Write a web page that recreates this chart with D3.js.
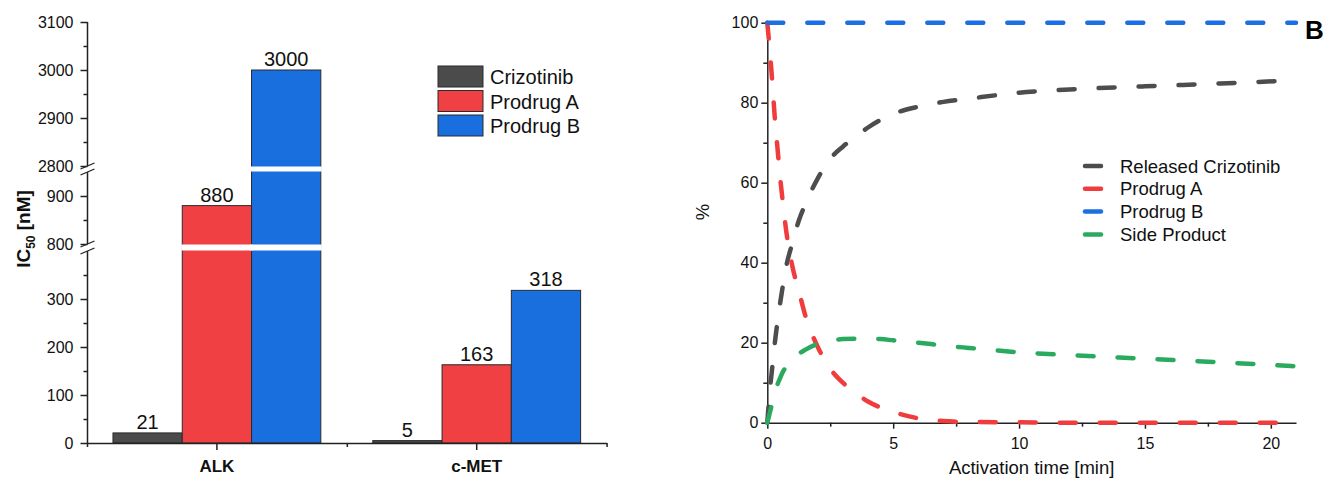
<!DOCTYPE html>
<html>
<head>
<meta charset="utf-8">
<script src="https://cdn.jsdelivr.net/npm/d3@7"></script>
<style>
  body { margin: 0; background: #fff; }
  svg { font-family: "Liberation Sans", Arial, Helvetica, sans-serif; }
</style>
</head>
<body>
<script>
// ---- data: left panel (IC50, nM) ----
const categories = ["ALK", "c-MET"];
const seriesNames = ["Crizotinib", "Prodrug A", "Prodrug B"];
const crizotinibIC50 = [21, 5];
const prodrugAIC50 = [880, 163];
const prodrugBIC50 = [3000, 318];
const barColors = ["#4b4b4b", "#f04043", "#1a6fdf"];

// broken axis pieces and their ticks
const lowerTicks = [0, 100, 200, 300];
const middleTicks = [800, 900];
const upperTicks = [2800, 2900, 3000, 3100];
const lowerMinor = [50, 150, 250, 350];
const middleMinor = [850];
const upperMinor = [2850, 2950, 3050];

// ---- data: right panel (% vs activation time) ----
const timeMin = [0, 0.1, 0.2, 0.3, 0.4, 0.5, 0.6, 0.75, 1, 1.25, 1.5, 2, 2.5, 3, 3.5, 4, 4.5, 5, 6, 7, 8, 10, 12, 15, 18, 21];
const releasedCrizotinib = [0, 8, 14, 20, 25, 29.5, 33.5, 39, 45, 50.5, 54.5, 61, 66, 69, 71.5, 73.8, 75.7, 77.2, 79, 80.2, 81, 82.5, 83.3, 84.1, 84.8, 85.6];
const prodrugA = [100, 93, 85, 76, 69, 62, 56, 48, 39, 33, 27, 19, 13.5, 10, 7.5, 5.3, 3.8, 2.7, 1.1, 0.4, 0.2, 0.1, 0, 0, 0, 0];
const prodrugB = [100, 100, 100, 100, 100, 100, 100, 100, 100, 100, 100, 100, 100, 100, 100, 100, 100, 100, 100, 100, 100, 100, 100, 100, 100, 100];
const sideProduct = [0, 2.5, 5, 7.5, 9.5, 11, 12.5, 14, 15.8, 17.2, 18.2, 19.7, 20.5, 20.9, 21.0, 21.0, 20.9, 20.6, 20.0, 19.3, 18.7, 17.6, 16.9, 16.0, 15.1, 14.1];
const lineNames = ["Released Crizotinib", "Prodrug A", "Prodrug B", "Side Product"];
const lineColors = ["#4d4d4d", "#f03c3c", "#1c6fe0", "#2aaa5f"];

const W = 1327, H = 479;
const axisColor = "#222";

const svg = d3.select("body").append("svg")
  .attr("width", W)
  .attr("height", H);

svg.append("rect").attr("width", W).attr("height", H).attr("fill", "#fff");

// =================== LEFT PANEL ===================
const axX = 87.5;
// three linear pieces of the broken y axis
const segments = [
  { scale: d3.scaleLinear().domain([0, 400]).range([443, 251]), major: lowerTicks, minor: lowerMinor },
  { scale: d3.scaleLinear().domain([800, 950]).range([244, 172]), major: middleTicks, minor: middleMinor },
  { scale: d3.scaleLinear().domain([2800, 3100]).range([166, 22]), major: upperTicks, minor: upperMinor }
];
function segFor(v) {
  return segments.find(s => v >= s.scale.domain()[0] && v <= s.scale.domain()[1]) || segments[0];
}
const yL = v => segFor(v).scale(v);

const x0 = d3.scaleBand().domain(categories).range([87, 606.6]).paddingInner(0.2).paddingOuter(0.1);
const x1 = d3.scaleBand().domain(seriesNames).range([0, x0.bandwidth()]);
const xLin = d3.scaleLinear().domain([0.5, 2.5]).range([87, 606.6]);

const barData = [];
categories.forEach((c, i) => {
  [crizotinibIC50, prodrugAIC50, prodrugBIC50].forEach((arr, j) => {
    barData.push({ cat: c, name: seriesNames[j], value: arr[i], color: barColors[j] });
  });
});

const left = svg.append("g");
const y0 = yL(0);

// full bars, then white bands cut through them at the axis breaks
left.append("g").selectAll("rect")
  .data(barData)
  .enter().append("rect")
    .attr("x", d => x0(d.cat) + x1(d.name))
    .attr("width", x1.bandwidth())
    .attr("y", d => yL(d.value))
    .attr("height", d => y0 - yL(d.value))
    .attr("fill", d => d.color)
    .attr("stroke", "#2a2a2a")
    .attr("stroke-width", 1);

[[segments[0], segments[1]], [segments[1], segments[2]]].forEach(([lo, hi]) => {
  const yB = lo.scale.range()[1], yT = hi.scale.range()[0];
  barData.filter(d => d.value > hi.scale.domain()[0]).forEach(d => {
    left.append("rect")
      .attr("x", x0(d.cat) + x1(d.name) - 1)
      .attr("width", x1.bandwidth() + 2)
      .attr("y", yT + 0.5)
      .attr("height", yB - yT - 1)
      .attr("fill", "#fff");
  });
});

// value labels above bars
left.append("g").selectAll("text")
  .data(barData)
  .enter().append("text")
    .attr("x", d => x0(d.cat) + x1(d.name) + x1.bandwidth() / 2)
    .attr("y", d => yL(d.value) - 4)
    .attr("text-anchor", "middle")
    .attr("font-size", 20)
    .attr("fill", "#111")
    .text(d => d.value);

// y axis pieces
segments.forEach(seg => {
  const gMaj = left.append("g").attr("transform", `translate(${axX},0)`)
    .call(d3.axisLeft(seg.scale).tickValues(seg.major).tickSize(7).tickPadding(7).tickFormat(d3.format("d")));
  gMaj.select(".domain").remove();
  gMaj.selectAll("text").attr("font-size", 16).attr("fill", "#111").attr("font-family", null);
  gMaj.selectAll("line").attr("stroke", axisColor).attr("stroke-width", 1.5);
  const gMin = left.append("g").attr("transform", `translate(${axX},0)`)
    .call(d3.axisLeft(seg.scale).tickValues(seg.minor).tickSize(4).tickFormat(""));
  gMin.select(".domain").remove();
  gMin.selectAll("line").attr("stroke", axisColor).attr("stroke-width", 1.5);
  const r = seg.scale.range();
  left.append("line")
    .attr("x1", axX).attr("x2", axX)
    .attr("y1", r[0]).attr("y2", r[1])
    .attr("stroke", axisColor).attr("stroke-width", 1.5);
});

// break marks on the axis
[[segments[0], segments[1]], [segments[1], segments[2]]].forEach(([lo, hi]) => {
  const yB = lo.scale.range()[1], yT = hi.scale.range()[0];
  [yT, yB].forEach(y => {
    left.append("line")
      .attr("x1", axX - 7).attr("y1", y + 3)
      .attr("x2", axX + 7).attr("y2", y - 3)
      .attr("stroke", axisColor).attr("stroke-width", 1.3);
  });
});

// x axis
const gx = left.append("g").attr("transform", `translate(0,${y0})`)
  .call(d3.axisBottom(x0).tickSize(7).tickSizeOuter(0).tickPadding(10));
gx.select(".domain").attr("stroke", axisColor).attr("stroke-width", 1.5);
gx.selectAll("line").attr("stroke", axisColor).attr("stroke-width", 1.5);
gx.selectAll("text").attr("font-size", 17).attr("font-weight", "bold").attr("fill", "#111").attr("font-family", null);
const gxm = left.append("g").attr("transform", `translate(0,${y0})`)
  .call(d3.axisBottom(xLin).tickValues([0.5, 1.5, 2.5]).tickSize(4).tickFormat(""));
gxm.select(".domain").remove();
gxm.selectAll("line").attr("stroke", axisColor).attr("stroke-width", 1.5);

// y axis title IC50 [nM]
const yt = left.append("text")
  .attr("transform", "translate(30,229) rotate(-90)")
  .attr("text-anchor", "middle")
  .attr("font-size", 19)
  .attr("font-weight", "bold")
  .attr("fill", "#111");
yt.append("tspan").text("IC");
yt.append("tspan").attr("font-size", 12).attr("dy", 5).text("50");
yt.append("tspan").attr("dy", -5).text(" [nM]");

// legend
const legL = left.append("g").attr("transform", "translate(438,66)");
seriesNames.forEach((n, i) => {
  const g = legL.append("g").attr("transform", `translate(0,${i * 24.5})`);
  g.append("rect").attr("width", 45).attr("height", 21)
    .attr("fill", barColors[i]).attr("stroke", "#2a2a2a").attr("stroke-width", 1);
  g.append("text").attr("x", 52).attr("y", 18)
    .attr("font-size", 20).attr("fill", "#111").text(n);
});

// =================== RIGHT PANEL ===================
const xR = d3.scaleLinear().domain([0, 21]).range([767.3, 1296]);
const yR = d3.scaleLinear().domain([0, 100]).range([422.7, 22.7]);
const right = svg.append("g");

const lineData = [releasedCrizotinib, prodrugA, prodrugB, sideProduct];
const line = d3.line()
  .x((d, i) => xR(timeMin[i]))
  .y(d => yR(d))
  .curve(d3.curveMonotoneX);

// axes
const gxr = right.append("g").attr("transform", `translate(0,${yR(0)})`)
  .call(d3.axisBottom(xR).tickValues([0, 5, 10, 15, 20]).tickSize(6).tickPadding(9).tickSizeOuter(0));
gxr.select(".domain").attr("stroke", axisColor).attr("stroke-width", 1.5);
gxr.selectAll("line").attr("stroke", axisColor).attr("stroke-width", 1.5);
gxr.selectAll("text").attr("font-size", 16).attr("fill", "#111").attr("font-family", null);
const gxrm = right.append("g").attr("transform", `translate(0,${yR(0)})`)
  .call(d3.axisBottom(xR).tickValues([2.5, 7.5, 12.5, 17.5]).tickSize(4).tickFormat(""));
gxrm.select(".domain").remove();
gxrm.selectAll("line").attr("stroke", axisColor).attr("stroke-width", 1.5);

const gyr = right.append("g").attr("transform", `translate(${xR(0)},0)`)
  .call(d3.axisLeft(yR).tickValues([0, 20, 40, 60, 80, 100]).tickSize(6).tickPadding(3).tickSizeOuter(0));
gyr.select(".domain").attr("stroke", axisColor).attr("stroke-width", 1.5);
gyr.selectAll("line").attr("stroke", axisColor).attr("stroke-width", 1.5);
gyr.selectAll("text").attr("font-size", 16).attr("fill", "#111").attr("font-family", null);
const gyrm = right.append("g").attr("transform", `translate(${xR(0)},0)`)
  .call(d3.axisLeft(yR).tickValues([10, 30, 50, 70, 90]).tickSize(4).tickFormat(""));
gyrm.select(".domain").remove();
gyrm.selectAll("line").attr("stroke", axisColor).attr("stroke-width", 1.5);

// curves
right.append("g").selectAll("path")
  .data(lineData)
  .enter().append("path")
    .attr("d", d => line(d))
    .attr("fill", "none")
    .attr("stroke", (d, i) => lineColors[i])
    .attr("stroke-width", 4.5)
    .attr("stroke-linecap", "round")
    .attr("stroke-dasharray", "16 24");

// axis titles
right.append("text")
  .attr("x", (xR(0) + xR(21)) / 2).attr("y", 474)
  .attr("text-anchor", "middle").attr("font-size", 18.5).attr("fill", "#111")
  .text("Activation time [min]");
right.append("text")
  .attr("transform", "translate(709,212) rotate(-90)")
  .attr("text-anchor", "middle").attr("font-size", 18.5).attr("fill", "#111")
  .text("%");

// legend
const legR = right.append("g").attr("transform", "translate(1085,166)");
lineNames.forEach((n, i) => {
  const g = legR.append("g").attr("transform", `translate(0,${i * 22.8})`);
  g.append("line").attr("x1", 0).attr("x2", 16)
    .attr("stroke", lineColors[i]).attr("stroke-width", 4.5).attr("stroke-linecap", "round");
  g.append("text").attr("x", 35).attr("y", 6.5)
    .attr("font-size", 18.5).attr("fill", "#111").text(n);
});

// panel letter
right.append("text")
  .attr("x", 1305).attr("y", 39)
  .attr("font-size", 26).attr("font-weight", "bold").attr("fill", "#000")
  .text("B");
</script>
</body>
</html>
